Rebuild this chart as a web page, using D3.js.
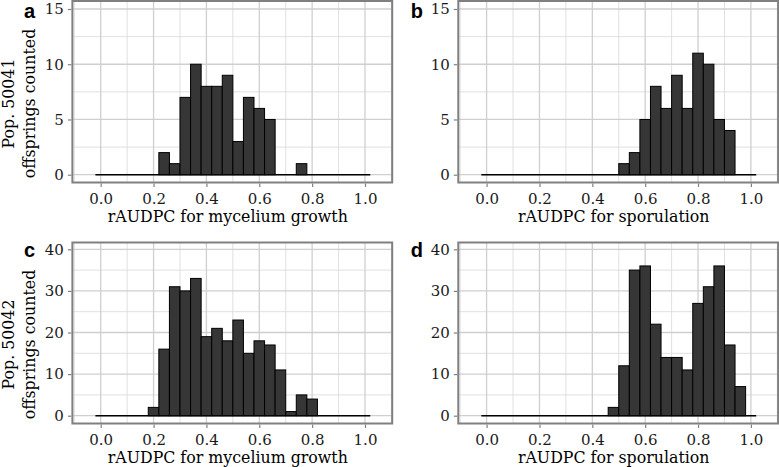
<!DOCTYPE html>
<html><head><meta charset="utf-8">
<script src="https://cdn.jsdelivr.net/npm/d3@7"></script>
<style>body{margin:0;background:#fff}svg{display:block}</style>
</head><body>
<svg id="chart" width="779" height="467"></svg>
<script>
// ---- data ----
const binCenters = [0.00,0.04,0.08,0.12,0.16,0.20,0.24,0.28,0.32,0.36,0.40,0.44,0.48,0.52,0.56,0.60,0.64,0.68,0.72,0.76,0.80,0.84,0.88,0.92,0.96,1.00];
const binWidth = 0.04;
const countsA = [0,0,0,0,0,0,2,1,7,10,8,8,9,3,7,6,5,0,0,1,0,0,0,0,0,0];
const countsB = [0,0,0,0,0,0,0,0,0,0,0,0,0,1,2,5,8,6,9,6,11,10,5,4,0,0];
const countsC = [0,0,0,0,0,2,16,31,30,33,19,21,18,23,15,18,17,11,1,5,4,0,0,0,0,0];
const countsD = [0,0,0,0,0,0,0,0,0,0,0,0,2,12,35,36,22,14,14,11,27,31,36,17,7,0];
const xTicks = [0.0,0.2,0.4,0.6,0.8,1.0];
const xMinor = [-0.1,0.1,0.3,0.5,0.7,0.9,1.1];
const yTicksTop = [0,5,10,15];
const yMinorTop = [2.5,7.5,12.5];
const yTicksBottom = [0,10,20,30,40];
const yMinorBottom = [5,15,25,35];
const panelLetters = ["a","b","c","d"];
const xTitles = ["rAUDPC for mycelium growth","rAUDPC for sporulation","rAUDPC for mycelium growth","rAUDPC for sporulation"];
const yTitleTop = ["Pop. 50041","offsprings counted"];
const yTitleBottom = ["Pop. 50042","offsprings counted"];

// ---- layout ----
const svg = d3.select("#chart");
const SERIF = "'DejaVu Serif', serif";
const cols = [0, 385.9];
const rows = [
  {top:1, bottom:182.5, y0:174.7, yMax:9, dom:[0,15], ticks:yTicksTop, minor:yMinorTop, titleY:103.5, letterY:18.3},
  {top:242.5, bottom:423.5, y0:415.7, yMax:249.3, dom:[0,40], ticks:yTicksBottom, minor:yMinorBottom, titleY:344.5, letterY:257.3}
];
const panels = [
  {r:0,c:0,counts:countsA},
  {r:0,c:1,counts:countsB},
  {r:1,c:0,counts:countsC},
  {r:1,c:1,counts:countsD}
];

panels.forEach((p,i)=>{
  const row = rows[p.r], off = cols[p.c];
  const left = 72.4 + off, right = 392.2 + off;
  const x = d3.scaleLinear().domain([0,1]).range([100.7+off, 365+off]);
  const y = d3.scaleLinear().domain(row.dom).range([row.y0, row.yMax]);
  const g = svg.append("g");

  // background grid
  g.selectAll(".xmin").data(xMinor.filter(v=>x(v)>left && x(v)<right)).enter().append("line")
    .attr("x1",d=>x(d)).attr("x2",d=>x(d)).attr("y1",row.top).attr("y2",row.bottom)
    .attr("stroke","#dcdcdc").attr("stroke-width",0.9);
  g.selectAll(".ymin").data(row.minor).enter().append("line")
    .attr("x1",left).attr("x2",right).attr("y1",d=>y(d)).attr("y2",d=>y(d))
    .attr("stroke","#dcdcdc").attr("stroke-width",0.9);
  g.selectAll(".xmaj").data(xTicks).enter().append("line")
    .attr("x1",d=>x(d)).attr("x2",d=>x(d)).attr("y1",row.top).attr("y2",row.bottom)
    .attr("stroke","#cfcfcf").attr("stroke-width",1.3);
  g.selectAll(".ymaj").data(row.ticks).enter().append("line")
    .attr("x1",left).attr("x2",right).attr("y1",d=>y(d)).attr("y2",d=>y(d))
    .attr("stroke","#cfcfcf").attr("stroke-width",1.3);

  // baseline (zero-count bins)
  g.append("line")
    .attr("x1",x(binCenters[0]-binWidth/2)).attr("x2",x(binCenters[binCenters.length-1]+binWidth/2))
    .attr("y1",y(0)).attr("y2",y(0)).attr("stroke","#000").attr("stroke-width",1.6);

  // bars
  const bins = binCenters.map((c,k)=>({c, n:p.counts[k]})).filter(d=>d.n>0);
  g.selectAll(".bar").data(bins).enter().append("rect")
    .attr("x",d=>x(d.c-binWidth/2)).attr("width",d=>x(d.c+binWidth/2)-x(d.c-binWidth/2))
    .attr("y",d=>y(d.n)).attr("height",d=>y(0)-y(d.n))
    .attr("fill","#363636").attr("stroke","#000").attr("stroke-width",1);

  // border
  g.append("rect").attr("x",left).attr("y",row.top).attr("width",right-left).attr("height",row.bottom-row.top)
    .attr("fill","none").attr("stroke","#808080").attr("stroke-width",2);

  // x axis
  const xa = g.append("g").attr("transform",`translate(0,${row.bottom+1})`)
    .call(d3.axisBottom(x).tickValues(xTicks).tickFormat(d3.format(".1f")).tickSize(3.5).tickPadding(6));
  xa.select(".domain").remove();
  xa.selectAll(".tick line").attr("stroke","#808080").attr("stroke-width",1.2);
  xa.selectAll(".tick text").attr("font-family",SERIF).attr("font-size",15).attr("fill","#1a1a1a");

  // y axis
  const ya = g.append("g").attr("transform",`translate(${left-1},0)`)
    .call(d3.axisLeft(y).tickValues(row.ticks).tickSize(3.5).tickPadding(4));
  ya.select(".domain").remove();
  ya.selectAll(".tick line").attr("stroke","#808080").attr("stroke-width",1.2);
  ya.selectAll(".tick text").attr("font-family",SERIF).attr("font-size",15).attr("fill","#1a1a1a");

  // x title
  g.append("text").attr("x",(left+right)/2-4.5).attr("y",row.bottom+39.5)
    .attr("text-anchor","middle").attr("font-family",SERIF).attr("font-size",15.8).attr("fill","#000")
    .text(xTitles[i]);

  // panel letter
  g.append("text").attr("x",24+off*0.9995+ (p.c?1:0)).attr("y",row.letterY)
    .attr("font-family","'Liberation Sans', Arial, sans-serif").attr("font-weight","bold")
    .attr("font-size",20).attr("fill","#000").text(panelLetters[i]);

  // y title (left column only)
  if (p.c===0) {
    const lines = p.r===0 ? yTitleTop : yTitleBottom;
    const t = g.append("text").attr("transform",`translate(0,${row.titleY}) rotate(-90)`)
      .attr("text-anchor","middle").attr("font-family",SERIF).attr("font-size",15.8).attr("fill","#000");
    t.append("tspan").attr("x",0).attr("y",13.5).text(lines[0]);
    t.append("tspan").attr("x",0).attr("y",35).text(lines[1]);
  }
});
</script>
</body></html>
